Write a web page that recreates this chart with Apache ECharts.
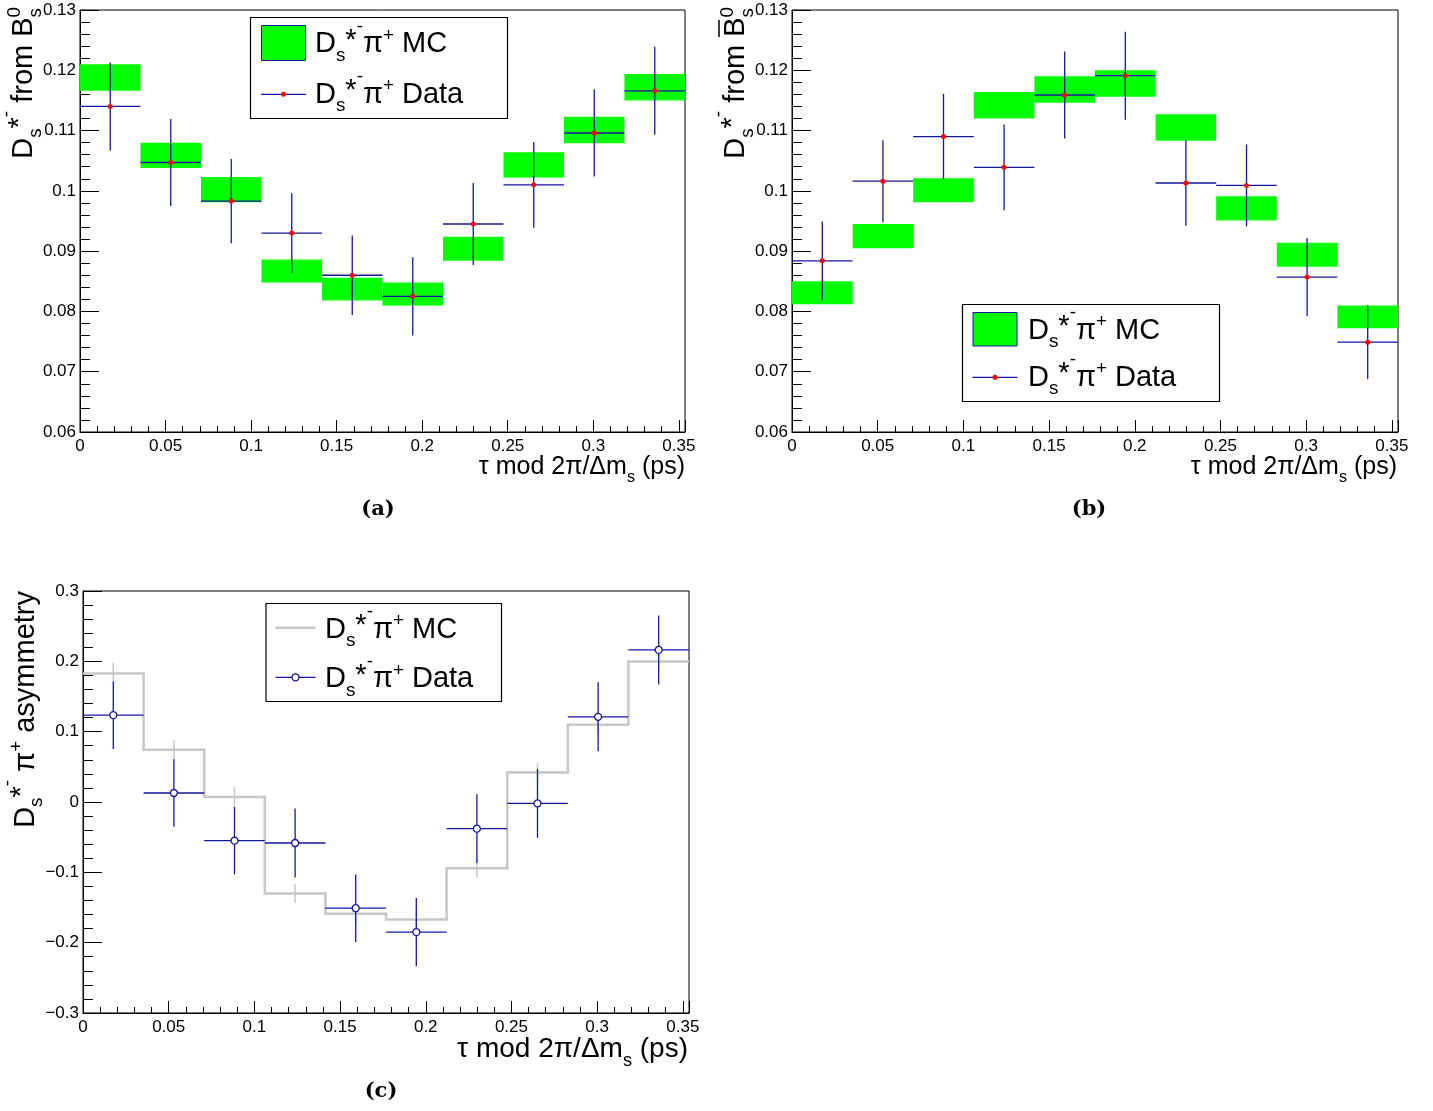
<!DOCTYPE html>
<html>
<head>
<meta charset="utf-8">
<script src="https://cdn.jsdelivr.net/npm/echarts@6/dist/echarts.min.js"></script>
<style>
html, body { margin: 0; padding: 0; background: #fff; }
#chart { width: 1433px; height: 1111px; }
</style>
</head>
<body>
<div id="chart"></div>
<script>
// Ten equal bins of tau mod 2pi/dm_s (ps) over one oscillation period
const binEdges = [0, 0.03536, 0.07072, 0.10608, 0.14144, 0.1768, 0.21216, 0.24752, 0.28288, 0.31824, 0.3536];
const xTickLabels = [0, 0.05, 0.1, 0.15, 0.2, 0.25, 0.3, 0.35];

// (a) Ds*- pi+ fraction from Bs0
const mcA      = [0.1188, 0.1059, 0.1002, 0.0867, 0.0837, 0.0829, 0.0904, 0.1043, 0.1101, 0.1172];
const mcAErr   = [0.0022, 0.0021, 0.0021, 0.0019, 0.0019, 0.0019, 0.0020, 0.0021, 0.0022, 0.0022];
const dataA    = [0.1140, 0.1047, 0.0983, 0.0930, 0.0860, 0.0825, 0.0945, 0.1010, 0.1096, 0.1166];
const dataAErr = [0.0073, 0.0072, 0.0070, 0.0066, 0.0066, 0.0065, 0.0068, 0.0071, 0.0072, 0.0073];

// (b) Ds*- pi+ fraction from anti-Bs0
const mcB      = [0.0831, 0.0925, 0.1001, 0.1142, 0.1168, 0.1178, 0.1105, 0.0971, 0.0894, 0.0791];
const mcBErr   = [0.0019, 0.0020, 0.0020, 0.0022, 0.0022, 0.0022, 0.0022, 0.0020, 0.0020, 0.0019];
const dataB    = [0.0884, 0.1016, 0.1090, 0.1039, 0.1159, 0.1191, 0.1013, 0.1009, 0.0857, 0.0749];
const dataBErr = [0.0065, 0.0068, 0.0071, 0.0071, 0.0072, 0.0073, 0.0071, 0.0068, 0.0065, 0.0061];

// (c) Ds*- pi+ asymmetry
const mcC      = [0.1826, 0.0743, 0.0071, -0.1302, -0.1590, -0.1671, -0.0943, 0.0420, 0.1098, 0.1996];
const mcCErr   = [0.0150, 0.0140, 0.0140, 0.0135, 0.0135, 0.0135, 0.0136, 0.0134, 0.0135, 0.0135];
const dataC    = [0.1235, 0.0128, -0.0550, -0.0583, -0.1510, -0.1851, -0.0379, -0.0020, 0.1211, 0.2162];
const dataCErr = [0.0480, 0.0480, 0.0480, 0.0490, 0.0480, 0.0486, 0.0490, 0.0490, 0.0490, 0.0490];

const panelLabels = ['(a)', '(b)', '(c)'];

const FONT = '"Liberation Sans", Arial, Helvetica, sans-serif';
const BLUE = '#1616a0';
const GREEN = '#00ff00';
const GREY = '#c8c8c8';
const XMAX = binEdges[binEdges.length - 1];

// rich-text styles giving TeX-like sub/superscripts for a base font size
function richStyles(fs) {
  const L = 1.4 * fs, F = 0.65 * fs;
  const up = (f, r) => L + 0.693 * fs - 0.693 * f - 2 * r;
  const dn = (f, d) => L - 0.693 * fs + 0.693 * f - 2 * d;
  const base = { fontFamily: FONT, color: '#000', align: 'left' };
  return {
    m:    Object.assign({}, base, { fontSize: fs, lineHeight: L }),
    star: Object.assign({}, base, { fontSize: fs, height: up(fs, 0.12 * fs), verticalAlign: 'top' }),
    sub:  Object.assign({}, base, { fontSize: F, height: dn(F, 0.28 * fs), verticalAlign: 'bottom' }),
    sup:  Object.assign({}, base, { fontSize: F, height: up(F, 0.42 * fs), verticalAlign: 'top' }),
    sup2: Object.assign({}, base, { fontSize: F, height: up(F, 0.72 * fs), verticalAlign: 'top' }),
    supz: Object.assign({}, base, { fontSize: F, height: up(F, 0.42 * fs), verticalAlign: 'top', width: 0 })
  };
}

const near = (v, list) => list.some(t => Math.abs(t - v) < 1e-6);
const numText = v => {
  const r = +v.toFixed(4);
  return r === 0 ? '0' : String(r).replace('-', '\u2212');
};

const grids = [
  { left: 80,  top: 10,  width: 605, height: 422 },
  { left: 792, top: 10,  width: 606, height: 422 },
  { left: 83,  top: 591, width: 606, height: 422 }
].map(g => Object.assign(g, { show: true, borderColor: '#000', borderWidth: 1, backgroundColor: 'transparent', containLabel: false, outerBoundsMode: 'none' }));

const labelStyle = { fontFamily: FONT, fontSize: 17, color: '#000' };

function xAxesFor(gi) {
  return [
    {
      type: 'value', gridIndex: gi, min: 0, max: XMAX, interval: 0.05, position: 'bottom',
      axisLine: { show: true, onZero: false, lineStyle: { color: '#000', width: 1 } },
      axisTick: { show: true, inside: true, length: 12, lineStyle: { color: '#000', width: 1 } },
      axisLabel: Object.assign({ show: true, margin: 6, showMinLabel: true, showMaxLabel: true,
        formatter: v => near(v, xTickLabels) ? numText(v) : '' }, labelStyle),
      splitLine: { show: false }
    },
    {
      // finer tick marks every 0.01 along the same scale
      type: 'value', gridIndex: gi, min: 0, max: XMAX, interval: 0.01, position: 'bottom',
      axisLine: { show: false, onZero: false },
      axisTick: { show: true, inside: true, length: 6, lineStyle: { color: '#000', width: 1 } },
      axisLabel: { show: false },
      splitLine: { show: false }
    }
  ];
}

function yAxisFor(gi, min, max, interval) {
  return {
    type: 'value', gridIndex: gi, min: min, max: max, interval: interval,
    axisLine: { show: true, onZero: false, lineStyle: { color: '#000', width: 1 } },
    axisTick: { show: true, inside: true, length: 19, lineStyle: { color: '#000', width: 1 } },
    minorTick: { show: true, splitNumber: 5, length: 10, lineStyle: { color: '#000', width: 1 } },
    axisLabel: Object.assign({ show: true, margin: 4, showMinLabel: true, showMaxLabel: true, formatter: numText }, labelStyle),
    splitLine: { show: false },
    minorSplitLine: { show: false }
  };
}

const binData = (vals, errs) => vals.map((v, i) => [binEdges[i], binEdges[i + 1], v, errs[i]]);

// MC expectation drawn as filled bands of +-1 sigma
function boxSeries(gi, vals, errs) {
  return {
    type: 'custom', xAxisIndex: 2 * gi, yAxisIndex: gi, z: 2, clip: true, silent: true,
    encode: { x: [0, 1], y: [2] },
    data: binData(vals, errs),
    renderItem(params, api) {
      const p1 = api.coord([api.value(0), api.value(2) + api.value(3)]);
      const p2 = api.coord([api.value(1), api.value(2) - api.value(3)]);
      return { type: 'rect', shape: { x: p1[0], y: p1[1], width: p2[0] - p1[0], height: p2[1] - p1[1] },
               style: { fill: GREEN } };
    }
  };
}

// MC asymmetry drawn as a step histogram with its error bars
function stepSeries(gi, vals, errs) {
  return {
    type: 'custom', xAxisIndex: 2 * gi, yAxisIndex: gi, z: 2, clip: true, silent: true,
    encode: { x: [0, 1], y: [2] },
    data: binData(vals, errs),
    renderItem(params, api) {
      const i = params.dataIndex;
      const lo = api.value(0), hi = api.value(1), v = api.value(2), e = api.value(3);
      const a = api.coord([lo, v]), b = api.coord([hi, v]);
      const pts = [];
      if (i > 0) pts.push(api.coord([lo, vals[i - 1]]));
      pts.push(a, b);
      const c = (lo + hi) / 2;
      const t = api.coord([c, v + e]), d = api.coord([c, v - e]);
      return {
        type: 'group',
        children: [
          { type: 'line', shape: { x1: t[0], y1: t[1], x2: d[0], y2: d[1] }, style: { stroke: GREY, lineWidth: 1.5 } },
          { type: 'polyline', shape: { points: pts }, style: { stroke: GREY, lineWidth: 2.5, fill: null, lineJoin: 'miter', lineCap: 'square' } }
        ]
      };
    }
  };
}

// data points: horizontal bin-width bar and vertical error bar
function crossSeries(gi, vals, errs) {
  return {
    type: 'custom', xAxisIndex: 2 * gi, yAxisIndex: gi, z: 3, clip: true, silent: true,
    encode: { x: [0, 1], y: [2] },
    data: binData(vals, errs),
    renderItem(params, api) {
      const lo = api.value(0), hi = api.value(1), v = api.value(2), e = api.value(3);
      const c = (lo + hi) / 2;
      const a = api.coord([lo, v]), b = api.coord([hi, v]);
      const t = api.coord([c, v + e]), d = api.coord([c, v - e]);
      const st = { stroke: BLUE, lineWidth: 1.3 };
      return {
        type: 'group',
        children: [
          { type: 'line', shape: { x1: a[0], y1: a[1], x2: b[0], y2: b[1] }, style: st },
          { type: 'line', shape: { x1: t[0], y1: t[1], x2: d[0], y2: d[1] }, style: st }
        ]
      };
    }
  };
}

function markerSeries(gi, vals, open) {
  return {
    type: 'scatter', xAxisIndex: 2 * gi, yAxisIndex: gi, z: 4, silent: true,
    symbol: 'circle', symbolSize: open ? 7 : 5,
    itemStyle: open ? { color: '#fff', borderColor: BLUE, borderWidth: 1.3, opacity: 1 } : { color: '#ff0000', opacity: 1 },
    data: vals.map((v, i) => [(binEdges[i] + binEdges[i + 1]) / 2, v])
  };
}

// ---- text pieces ----
const R25 = richStyles(25);
const R28 = richStyles(28);
const R29 = richStyles(29);

const xTitle = '{m|\u03c4 mod 2\u03c0/\u0394m}{sub|s}{m| (ps)}';
const yTitleA = '{m|D}{sub|s}{star|*}{sup2|-}{m| from B}{supz|0}{sub|s}';
const yTitleC = '{m|D}{sub|s}{star|*}{sup2|-}{m| \u03c0}{sup|+}{m| asymmetry}';
const legMC = '{m|D}{sub|s}{star|*}{sup2|-}{m|\u03c0}{sup|+}{m| MC}';
const legData = '{m|D}{sub|s}{star|*}{sup2|-}{m|\u03c0}{sup|+}{m| Data}';

function textEl(x, y, text, rich, align, valign, rotation) {
  return {
    type: 'text', x: x, y: y, rotation: rotation || 0, z: 10, silent: true,
    style: { text: text, rich: rich, align: align, textAlign: align, verticalAlign: valign, textVerticalAlign: valign,
             fill: '#000', font: '28px ' + FONT }
  };
}

function legendBox(x, y, w, h) {
  return { type: 'rect', z: 9, silent: true, shape: { x: x, y: y, width: w, height: h },
           style: { fill: '#fff', stroke: '#000', lineWidth: 1.2 } };
}

const graphics = [
  // x-axis titles
  textEl(685, 467.5, xTitle, R25, 'right', 'middle'),
  textEl(1397, 467.5, xTitle, R25, 'right', 'middle'),
  textEl(688, 1049.5, xTitle, R28, 'right', 'middle'),
  // y-axis titles (reading upwards, ending at the top of the frame)
  textEl(3.5, 8, yTitleA, R29, 'right', 'top', Math.PI / 2),
  textEl(716, 8, yTitleA, R29, 'right', 'top', Math.PI / 2),
  { type: 'line', z: 10, silent: true, shape: { x1: 719, y1: 20, x2: 719, y2: 37 }, style: { stroke: '#000', lineWidth: 1.5 } },
  textEl(5.3, 591, yTitleC, R29, 'right', 'top', Math.PI / 2),

  // legend (a)
  legendBox(250.5, 17.5, 257, 101),
  { type: 'rect', z: 10, silent: true, shape: { x: 261.5, y: 25.5, width: 44, height: 35 }, style: { fill: GREEN, stroke: BLUE, lineWidth: 1 } },
  textEl(315, 44, legMC, R29, 'left', 'middle'),
  { type: 'line', z: 10, silent: true, shape: { x1: 261, y1: 94.3, x2: 306, y2: 94.3 }, style: { stroke: BLUE, lineWidth: 1.3 } },
  { type: 'circle', z: 11, silent: true, shape: { cx: 283.5, cy: 94.3, r: 2.5 }, style: { fill: '#ff0000' } },
  textEl(315, 94.5, legData, R29, 'left', 'middle'),

  // legend (b)
  legendBox(962.5, 304.5, 257, 97),
  { type: 'rect', z: 10, silent: true, shape: { x: 973, y: 312.5, width: 44, height: 33.5 }, style: { fill: GREEN, stroke: BLUE, lineWidth: 1 } },
  textEl(1028, 330.5, legMC, R29, 'left', 'middle'),
  { type: 'line', z: 10, silent: true, shape: { x1: 972.5, y1: 377.3, x2: 1017.5, y2: 377.3 }, style: { stroke: BLUE, lineWidth: 1.3 } },
  { type: 'circle', z: 11, silent: true, shape: { cx: 995, cy: 377.3, r: 2.5 }, style: { fill: '#ff0000' } },
  textEl(1028, 377.5, legData, R29, 'left', 'middle'),

  // legend (c)
  legendBox(266, 603.5, 235.5, 98),
  { type: 'line', z: 10, silent: true, shape: { x1: 275.5, y1: 627.7, x2: 315.5, y2: 627.7 }, style: { stroke: GREY, lineWidth: 2.5 } },
  textEl(325, 629.5, legMC, R29, 'left', 'middle'),
  { type: 'line', z: 10, silent: true, shape: { x1: 275.5, y1: 677.3, x2: 315.5, y2: 677.3 }, style: { stroke: BLUE, lineWidth: 1.3 } },
  { type: 'circle', z: 11, silent: true, shape: { cx: 295.5, cy: 677.3, r: 3.5 }, style: { fill: '#fff', stroke: BLUE, lineWidth: 1.3 } },
  textEl(325, 679, legData, R29, 'left', 'middle'),

  // sub-figure captions
  ...[[378, 510], [1089, 510], [381, 1092]].map((p, i) => ({
    type: 'text', x: p[0], y: p[1], z: 10, silent: true,
    style: { text: panelLabels[i], align: 'center', textAlign: 'center', verticalAlign: 'middle', textVerticalAlign: 'middle',
             fill: '#000', font: 'bold 21px "DejaVu Serif", "Liberation Serif", serif' }
  }))
];

const option = {
  animation: false,
  backgroundColor: '#fff',
  grid: grids,
  xAxis: [].concat(xAxesFor(0), xAxesFor(1), xAxesFor(2)),
  yAxis: [
    yAxisFor(0, 0.06, 0.13, 0.01),
    yAxisFor(1, 0.06, 0.13, 0.01),
    yAxisFor(2, -0.3, 0.3, 0.1)
  ],
  series: [
    boxSeries(0, mcA, mcAErr),
    crossSeries(0, dataA, dataAErr),
    markerSeries(0, dataA, false),
    boxSeries(1, mcB, mcBErr),
    crossSeries(1, dataB, dataBErr),
    markerSeries(1, dataB, false),
    stepSeries(2, mcC, mcCErr),
    crossSeries(2, dataC, dataCErr),
    markerSeries(2, dataC, true)
  ],
  graphic: { elements: graphics }
};

const chart = echarts.init(document.getElementById('chart'), null, { renderer: 'canvas', width: 1433, height: 1111 });
chart.setOption(option);
</script>
</body>
</html>
